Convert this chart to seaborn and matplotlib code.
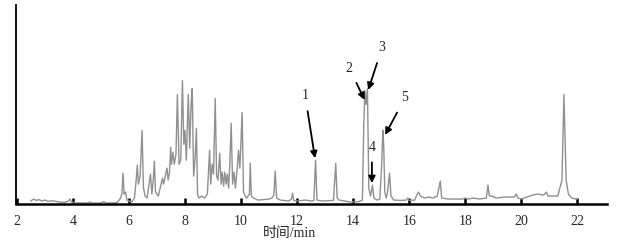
import pandas as pd
import matplotlib.pyplot as plt
import seaborn as sns

# chromatogram vertices (time in min, relative intensity)
times = [2.50, 2.60, 2.70, 2.80, 2.90, 3.00, 3.10, 3.30, 3.50, 3.70, 3.85, 3.90, 3.95,
         4.10, 4.50, 4.60, 4.70, 5.00, 5.10, 5.20, 5.50, 5.60, 5.70, 5.75, 5.79, 5.83,
         5.88, 5.93, 6.00, 6.10, 6.20, 6.26, 6.30, 6.34, 6.40, 6.47, 6.52, 6.58, 6.65,
         6.72, 6.77, 6.82, 6.87, 6.91, 6.95, 7.00, 7.05, 7.10, 7.17, 7.20, 7.24, 7.30,
         7.36, 7.40, 7.45, 7.49, 7.52, 7.57, 7.62, 7.68, 7.73, 7.79, 7.85, 7.91, 7.96,
         8.00, 8.05, 8.12, 8.17, 8.22, 8.26, 8.31, 8.36, 8.41, 8.45, 8.50, 8.60, 8.70,
         8.80, 8.84, 8.88, 8.92, 8.97, 9.02, 9.08, 9.13, 9.18, 9.24, 9.29, 9.33, 9.38,
         9.42, 9.47, 9.51, 9.56, 9.60, 9.65, 9.70, 9.75, 9.80, 9.86, 9.91, 9.96, 10.04,
         10.09, 10.15, 10.20, 10.30, 10.33, 10.37, 10.45, 10.60, 10.80, 11.00, 11.10,
         11.17, 11.22, 11.27, 11.40, 11.70, 11.80, 11.84, 11.88, 12.00, 12.30, 12.50,
         12.60, 12.66, 12.71, 12.90, 13.30, 13.38, 13.43, 13.50, 13.70, 13.90, 14.20,
         14.33, 14.38, 14.42, 14.46, 14.51, 14.56, 14.62, 14.69, 14.74, 14.85, 14.95,
         15.02, 15.06, 15.09, 15.13, 15.18, 15.23, 15.30, 15.35, 15.45, 15.70, 15.90,
         15.95, 16.00, 16.20, 16.27, 16.33, 16.40, 16.55, 16.70, 16.85, 17.00, 17.11,
         17.16, 17.40, 17.90, 18.00, 18.10, 18.30, 18.50, 18.75, 18.81, 18.86, 18.95,
         19.10, 19.40, 19.75, 19.82, 19.88, 20.00, 20.20, 20.40, 20.60, 20.80, 20.90,
         20.95, 21.30, 21.45, 21.52, 21.60, 21.68, 21.80, 21.95, 22.00]
intensity = [1.5, 2.5, 1.8, 2.2, 1.5, 2.0, 1.4, 1.6, 1.0, 0.8, 1.5, 2.5, 1.0,
             0.6, 0.5, 1.0, 0.5, 0.5, 1.2, 0.5, 0.6, 1.0, 3.0, 5, 15.5, 5,
             6, 2, 1.5, 1.0, 3, 12, 19.5, 10, 14, 37, 8, 4, 3,
             10, 15, 5, 12, 21.5, 6, 5, 4, 7, 11, 13, 10, 14,
             18, 12, 16, 28.5, 20, 26, 20, 25, 55, 20, 22, 62, 30,
             37, 22, 55, 28, 50, 58, 14, 22, 38, 5, 3, 4, 3,
             5, 16, 27, 10, 20, 15, 53, 14, 12, 25.5, 10, 16, 9,
             16, 10, 15, 8, 20, 40.5, 10, 16, 8, 17, 27, 18, 46,
             6, 4, 3, 5, 20.5, 4, 3, 2, 2.2, 2.5, 3,
             4.5, 16.5, 3, 2, 1.5, 2.5, 5.5, 1.8, 1.5, 2, 1.5,
             1.8, 22, 2, 1.5, 1.8, 20.5, 3, 2, 1.5, 1, 1.2,
             2, 40, 57, 50, 58, 8, 4, 9.5, 3, 2, 2.5,
             20, 37, 30, 6, 3, 6, 15.5, 4, 2, 1.8, 2,
             3, 1.8, 2, 4.5, 6, 4, 3, 3.5, 3, 4, 11.5,
             3, 2.5, 2.5, 3, 2.5, 3, 2.5, 3, 9.5, 4, 4,
             3, 3.5, 3.5, 5, 3, 2.5, 3.5, 4.5, 5, 4.5, 6,
             4, 4, 12, 55, 12, 5, 3, 2.5, 2.5]

xticks = [2, 4, 6, 8, 10, 12, 14, 16, 18, 20, 22]

# peak labels: number, arrow tip (time, intensity), label position (time, intensity)
peak_ids = ['1', '2', '3', '4', '5']
tip_t = [12.64, 14.41, 14.54, 14.67, 15.14]
tip_y = [23, 52.3, 57.3, 10.5, 34.7]
lab_t = [12.29, 13.86, 15.03, 14.67, 15.85]
lab_y = [54.3, 68.3, 78.4, 28.6, 53.3]

df = pd.DataFrame({'time': times, 'signal': intensity})

sns.set_style('white')
plt.rcParams['font.family'] = ['Liberation Serif', 'Noto Sans CJK SC']

fig = plt.figure(figsize=(6.23, 2.47), dpi=100)
ax = fig.add_axes([0.026, 0.174, 0.948, 0.806])

sns.lineplot(data=df, x='time', y='signal', ax=ax, color='#909090', linewidth=1.0)

for pid, tt, ty, lt, ly in zip(peak_ids, tip_t, tip_y, lab_t, lab_y):
    ax.annotate(pid, xy=(tt, ty), xytext=(lt, ly), ha='center', va='center', fontsize=10,
                arrowprops=dict(arrowstyle='-|>', color='black', lw=1.3,
                                shrinkA=4, shrinkB=0, mutation_scale=10))

ax.set_xlim(1.98, 23.05)
ax.set_ylim(0, 100)
ax.set_xticks(xticks)
ax.set_xticklabels([str(v) for v in xticks], fontsize=10)
ax.set_yticks([])
ax.tick_params(axis='x', bottom=True, direction='in', length=4, width=1.8,
               color='black', pad=8)
ax.set_xlabel('')
ax.set_ylabel('')
for side in ['top', 'right']:
    ax.spines[side].set_visible(False)
ax.spines['left'].set_linewidth(1.3)
ax.spines['bottom'].set_linewidth(1.8)
ax.spines['left'].set_color('black')
ax.spines['bottom'].set_color('black')

fig.text(289 / 623, 1 - 234 / 247, '时间/min', ha='center', va='center', fontsize=10)

fig.savefig('out.png', dpi=100)
